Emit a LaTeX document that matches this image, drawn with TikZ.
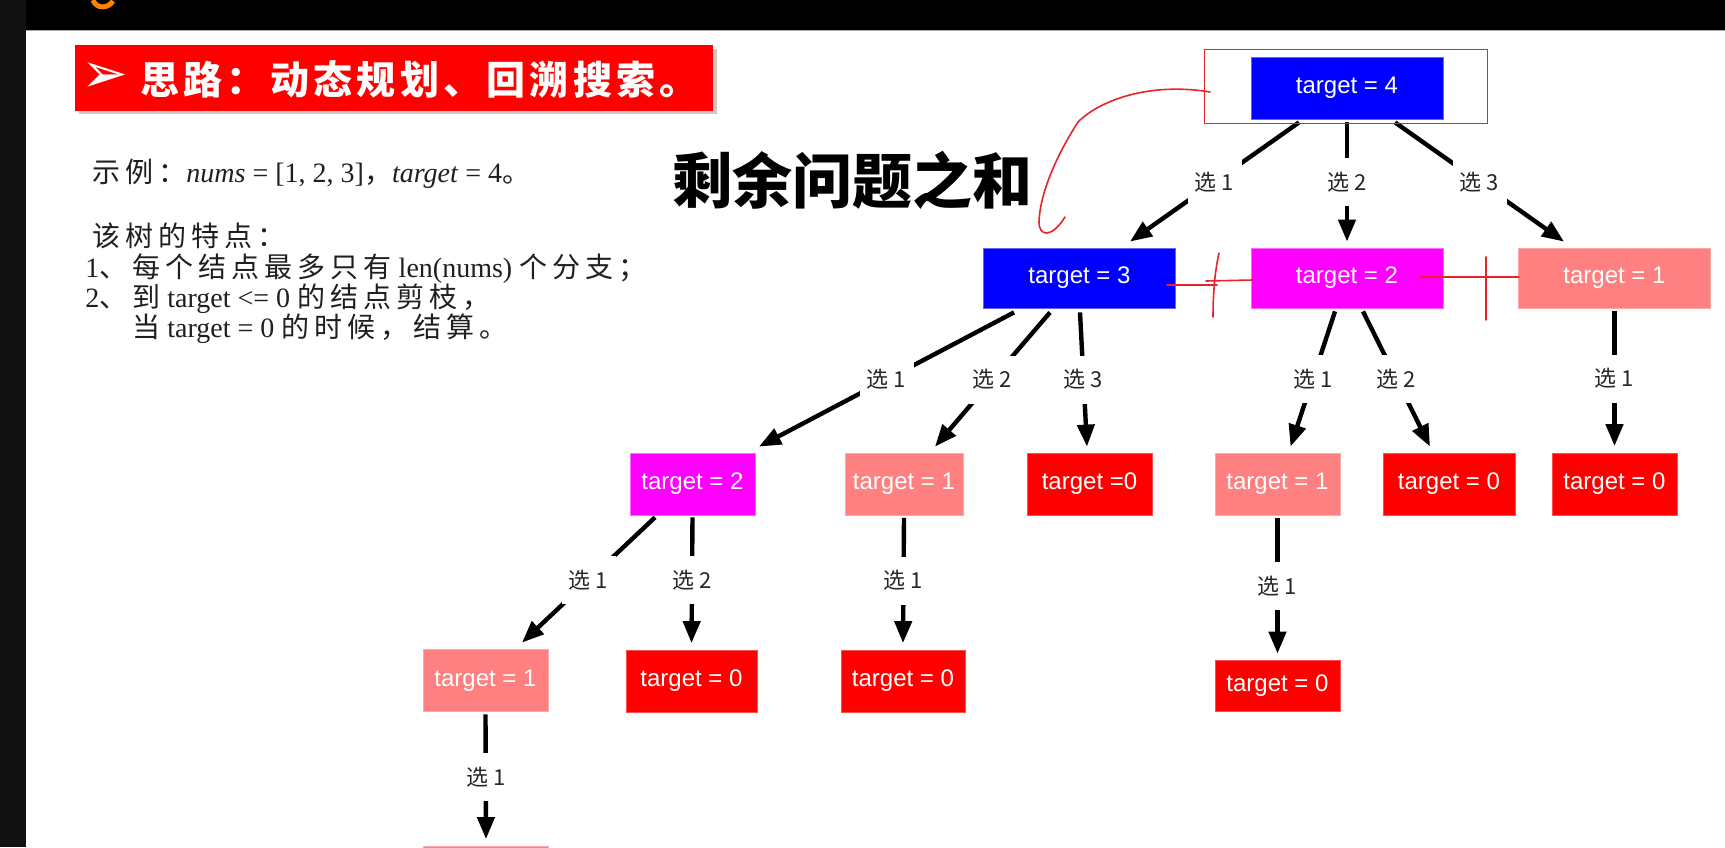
\documentclass[tikz,border=0pt]{standalone}
\usepackage{fontspec}
\setmainfont{Liberation Serif}
\newfontfamily\cjk{Noto Sans CJK SC}
\newfontfamily\cjknote[LetterSpace=18]{Noto Sans CJK SC}
\newfontfamily\cjkbanner[LetterSpace=11]{Noto Sans CJK SC}
\newfontfamily\helv{Liberation Sans}
\newfontfamily\dingfont{DejaVu Sans}
\usetikzlibrary{arrows.meta, calc}

\definecolor{nodeblue}{HTML}{0000FF}
\definecolor{nodepink}{HTML}{FF00FF}
\definecolor{nodesalmon}{HTML}{FF8080}
\definecolor{nodered}{HTML}{FF0000}
\definecolor{penred}{HTML}{E8232B}
\definecolor{stripgray}{HTML}{111111}

\tikzset{
  tnode/.style={rectangle, inner sep=0pt, text=white, line width=0.4pt,
    font=\helv\fontsize{12}{14}\selectfont, minimum height=31pt, minimum width=62.5pt},
  bluebox/.style={tnode, fill=nodeblue, draw=nodeblue!60!white},
  pinkbox/.style={tnode, fill=nodepink, draw=nodepink!60!white},
  salmonbox/.style={tnode, fill=nodesalmon, draw=nodesalmon!70!white},
  redbox/.style={tnode, fill=nodered, draw=nodered!70!white},
  wide/.style={minimum width=96pt},
  edge/.style={line width=2.2pt, -{Triangle[length=11pt,width=8.5pt]}},
  lab/.style={fill=white, inner sep=0pt, minimum width=27pt, minimum height=24pt,
    text=black!85, font=\cjk\fontsize{11}{12}\selectfont},
  notes/.style={anchor=base west, inner sep=0pt, text=black!88, font=\fontsize{14}{16}\selectfont},
  pen/.style={penred, line width=0.8pt, line cap=round, line join=round}
}

\begin{document}
\begin{tikzpicture}[x=0.5pt, y=-0.5pt]
\useasboundingbox (0,0) rectangle (1725,847);
\clip (0,0) rectangle (1725,847);

% window frame
\fill[white] (0,0) rectangle (1725,847);
\fill[stripgray] (0,0) rectangle (26,847);
\fill[black] (26,0) rectangle (1725,30);
\draw[gray!70, line width=0.6pt] (26,30.5) -- (1725,30.5);
\draw[orange, line width=2.5pt] (93,0) .. controls (96,9) and (108,9) .. (113,1);

% banner
\fill[gray!70, opacity=0.6] (79,49) rectangle (717,114);
\node[fill=nodered, inner sep=0pt, minimum width=319pt, minimum height=33pt] (banner) at (394,78) {};
\node[text=white, inner sep=0pt, font=\dingfont\fontsize{28}{28}\selectfont] (bannerarrow) at (105,78) {➢};
\node[anchor=west, inner sep=0pt, text=white, font=\cjkbanner\bfseries\fontsize{19.5}{22}\selectfont]
  (bannertext) at (140,79) {思路：动态规划、回溯搜索。};

% example and notes
\node[notes] (example) at (92,182) {{\cjknote 示例：}\textit{nums} = [1, 2, 3]{\cjknote ，}\textit{target} = 4{\cjknote 。}};
\node[notes] (feature) at (92,246) {\cjknote 该树的特点：};
\node[notes] (rule1) at (85,277) {1{\cjknote 、每个结点最多只有} len(nums) {\cjknote 个分支；}};
\node[notes] (rule2) at (85,307) {2{\cjknote 、到} target <= 0 {\cjknote 的结点剪枝，}};
\node[notes] (rule3) at (132,337) {{\cjknote 当} target = 0 {\cjknote 的时候，结算。}};

\node[font=\cjk\bfseries\fontsize{30}{32}\selectfont] (sumtext) at (852,180) {剩余问题之和};

% tree nodes
\node[bluebox, wide] (root) at (1347,88) {target = 4};
\node[bluebox, wide, minimum height=30pt] (n3) at (1079.5,278) {target = 3};
\node[pinkbox, wide, minimum height=30pt] (n2) at (1347,278) {target = 2};
\node[salmonbox, wide, minimum height=30pt] (n1) at (1614.5,278) {target = 1};

\node[pinkbox] (a2) at (692.5,484) {target = 2};
\node[salmonbox, minimum width=59pt] (a1) at (904,484) {target = 1};
\node[redbox] (a0) at (1089.5,484) {target =0};
\node[salmonbox] (b1) at (1277.5,484) {target = 1};
\node[redbox, minimum width=66pt] (b0) at (1449,484) {target = 0};
\node[redbox] (c0) at (1614.5,484) {target = 0};

\node[salmonbox] (d1) at (485.5,680.5) {target = 1};
\node[redbox, minimum width=65.5pt] (d0) at (691.5,681) {target = 0};
\node[redbox, minimum width=62pt] (e0) at (903,681) {target = 0};
\node[redbox, minimum height=25.5pt] (f0) at (1277.5,686) {target = 0};
\node[salmonbox] (g1) at (486,877) {};

% edges
\draw[edge] ($(root.south)+(-48,3)$) -- node[lab] {选 1} ($(n3.north)+(50.5,-6)$);
\draw[edge] ($(root.south)+(0,3)$) -- node[lab] {选 2} ($(n2.north)+(0,-6)$);
\draw[edge] ($(root.south)+(48,3)$) -- node[lab] {选 3} ($(n1.north)+(-50.5,-6)$);

\draw[edge] ($(n3.south)+(-65.5,4)$) -- node[lab] {选 1} ($(a2.north)+(66.5,-6)$);
\draw[edge] ($(n3.south)+(-29.5,4)$) -- node[lab] {选 2} ($(a1.north)+(31,-6)$);
\draw[edge] ($(n3.south)+(0.5,4)$) -- node[lab] {选 3} ($(a0.north)+(-2.5,-6)$);
\draw[edge] ($(n2.south)+(-12,3)$) -- node[lab] {选 1} ($(b1.north)+(13,-6)$);
\draw[edge] ($(n2.south)+(16,3)$) -- node[lab] {选 2} ($(b0.north)+(-19,-6)$);

\draw[edge] ($(a2.south)+(-37.5,2)$) -- node[lab] {选 1} ($(d1.north)+(36.5,-6.5)$);
\draw[edge] ($(a2.south)+(0,2)$) -- node[lab] {选 2} ($(d0.north)+(0,-6.5)$);

\foreach \up/\down in {n1/c0, a1/e0, b1/f0, d1/g1}
  \draw[edge] ($(\up.south)+(0,2.5)$) -- node[lab] {选 1} ($(\down.north)+(0,-6.5)$);

% pen marks
\draw[pen] ($(root.north west)+(-46,-7)$) rectangle ($(root.south east)+(44,4)$);
\draw[pen] (1210,92) .. controls (1150,82) and (1100,100) .. (1078,122)
  .. controls (1060,150) and (1040,190) .. (1039,222)
  .. controls (1039,237) and (1052,238) .. (1065,217);
\draw[pen] (1167,285) -- (1217,285);
\draw[pen] (1206,281) -- (1253,280);
\draw[pen] (1219,253) .. controls (1214,275) and (1213,300) .. (1213,317);
\draw[pen] (1420,277) -- (1519,277);
\draw[pen] (1486,257) -- (1486,320);
\end{tikzpicture}
\end{document}
